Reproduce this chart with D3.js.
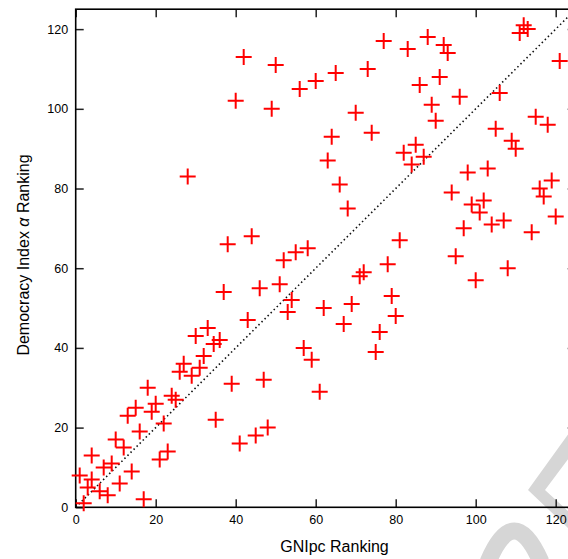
<!DOCTYPE html>
<html>
<head>
<meta charset="utf-8">
<script src="https://cdn.jsdelivr.net/npm/d3@7"></script>
<style>
  html, body { margin: 0; padding: 0; background: #fff; }
  svg { display: block; font-family: "Liberation Sans", Arial, Helvetica, sans-serif; }
</style>
</head>
<body>
<svg id="chart" width="568" height="559"></svg>
<script>
// Country rankings: GNI per capita rank (x) vs. Democracy Index rank (y)
const gniRank = [
  2, 1, 4, 3, 4, 6, 8, 7, 9, 11, 14, 10, 12, 16, 17, 18, 13, 15, 19, 20,
  22, 21, 23, 24, 25, 26, 27, 29, 31, 30, 32, 33, 34.5, 36, 35, 37, 39, 41, 43, 46,
  47, 45, 48, 51, 52, 53, 54, 55, 58, 57, 59, 61, 38, 44, 28, 42, 50, 40, 49, 56,
  60, 65, 73, 77, 83, 88, 92, 93, 111, 112, 113, 121, 91, 86, 96, 89, 90, 106, 115, 118,
  70, 74, 64, 63, 66, 68, 82, 85, 87, 84, 105, 109, 110, 98, 103, 94, 119, 116, 117, 99,
  101, 102, 97, 104, 107, 120, 114, 81, 95, 100, 108, 78, 71, 72, 62, 69, 67, 79, 80, 76,
  75
];
const demRank = [
  1, 8, 13, 5, 7, 4, 3, 10, 11, 6, 9, 17, 15, 19, 2, 30, 23, 25, 24, 26,
  21, 12, 14, 28, 27, 34, 36, 33, 35, 43, 38, 45, 41, 42, 22, 54, 31, 16, 47, 55,
  32, 18, 20, 56, 62, 49, 52, 64, 65, 40, 37, 29, 66, 68, 83, 113, 111, 102, 100, 105,
  107, 109, 110, 117, 115, 118, 116, 114, 119, 121, 120, 112, 108, 106, 103, 101, 97, 104, 98, 96,
  99, 94, 93, 87, 81, 75, 89, 91, 88, 86, 95, 92, 90, 84, 85, 79, 82, 80, 78, 76,
  74, 77, 70, 71, 72, 73, 69, 67, 63, 57, 60, 61, 58, 59, 50, 51, 46, 53, 48, 44,
  39
];
const tickValues = [0, 20, 40, 60, 80, 100, 120];

const points = gniRank.map((g, i) => ({ gni: g, dem: demRank[i] }));

const svg = d3.select("#chart");
const x = d3.scaleLinear().domain([0, 125]).range([75.7, 575.7]);
const y = d3.scaleLinear().domain([0, 125]).range([507.3, 9.2]);

// Light grey background stamp, partly off the right/bottom edge
const stamp = svg.append("g").attr("fill", "#d6d6d6").attr("stroke", "none");
stamp.append("path")
  .attr("d", "M569,433 L528,490 L569,529 L569,512 L545,490 L569,458 Z");
stamp.append("path")
  .attr("d", "M488,562 Q514,500 541,562")
  .attr("fill", "none")
  .attr("stroke", "#d6d6d6")
  .attr("stroke-width", 17);

svg.append("defs").append("clipPath").attr("id", "plot-clip")
  .append("rect")
  .attr("x", x(0)).attr("y", y(125))
  .attr("width", x(125) - x(0)).attr("height", y(0) - y(125));

// Reference line y = x
svg.append("line")
  .attr("clip-path", "url(#plot-clip)")
  .attr("x1", x(0)).attr("y1", y(0))
  .attr("x2", x(125)).attr("y2", y(125))
  .attr("stroke", "#111")
  .attr("stroke-width", 1.6)
  .attr("stroke-dasharray", "1.5,2.8");

// Axes with inward ticks on all four sides
const tickStyle = g => {
  g.select(".domain").remove();
  g.selectAll(".tick line").attr("stroke", "#222").attr("stroke-width", 1.5);
  g.selectAll(".tick text").attr("fill", "#000").style("font-size", "12.5px")
    .style("font-family", "'Liberation Sans', Arial, Helvetica, sans-serif");
};

svg.append("g")
  .attr("transform", `translate(0,${y(0)})`)
  .call(d3.axisBottom(x).tickValues(tickValues).tickSizeInner(-8).tickSizeOuter(0).tickPadding(8))
  .call(tickStyle);

svg.append("g")
  .attr("transform", `translate(${x(0)},0)`)
  .call(d3.axisLeft(y).tickValues(tickValues).tickSizeInner(-8).tickSizeOuter(0).tickPadding(7.5))
  .call(tickStyle);

svg.append("g")
  .attr("transform", `translate(0,${y(125)})`)
  .call(d3.axisTop(x).tickValues(tickValues).tickSizeInner(-8).tickSizeOuter(0).tickFormat(""))
  .call(tickStyle);

svg.append("g")
  .attr("transform", `translate(${x(125)},0)`)
  .call(d3.axisRight(y).tickValues(tickValues).tickSizeInner(-8).tickSizeOuter(0).tickFormat(""))
  .call(tickStyle);

// Plot frame
svg.append("rect")
  .attr("x", x(0)).attr("y", y(125))
  .attr("width", x(125) - x(0)).attr("height", y(0) - y(125))
  .attr("fill", "none")
  .attr("stroke", "#000")
  .attr("stroke-width", 1.6);

// Data markers (plus signs)
svg.append("g")
  .selectAll("path")
  .data(points)
  .join("path")
  .attr("transform", d => `translate(${x(d.gni)},${y(d.dem)})`)
  .attr("d", "M-8,0H8M0,-8V8")
  .attr("stroke", "#ff0000")
  .attr("stroke-width", 2)
  .attr("fill", "none");

// Axis titles
svg.append("text")
  .attr("x", 334.5)
  .attr("y", 552)
  .attr("text-anchor", "middle")
  .style("font-size", "16px")
  .text("GNIpc Ranking");

const yTitle = svg.append("text")
  .attr("transform", "translate(29,255) rotate(-90)")
  .attr("text-anchor", "middle")
  .style("font-size", "16px");
yTitle.append("tspan").text("Democracy Index ");
yTitle.append("tspan").style("font-style", "italic").text("α");
yTitle.append("tspan").text(" Ranking");
</script>
</body>
</html>
